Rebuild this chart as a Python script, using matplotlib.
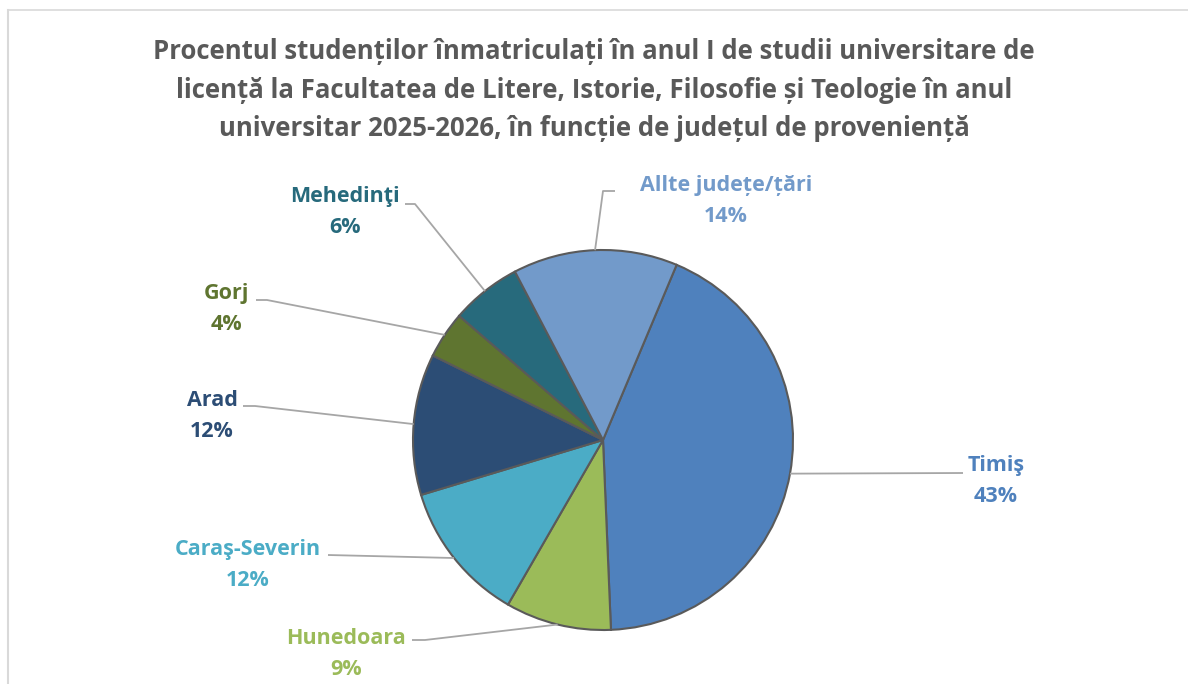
import matplotlib.pyplot as plt
from matplotlib.lines import Line2D
import numpy as np

# chart data
categories = ["Timiş", "Hunedoara", "Caraş-Severin", "Arad", "Gorj", "Mehedinţi", "Allte județe/țări"]
shares = [43, 9, 12, 12, 4, 6, 14]
colors = ["#4F81BD", "#9BBB59", "#4BACC6", "#2C4D75", "#5F7530", "#276A7C", "#729ACA"]

title = ("Procentul studenților înmatriculați în anul I de studii universitare de\n"
         "licență la Facultatea de Litere, Istorie, Filosofie și Teologie în anul\n"
         "universitar 2025-2026, în funcție de județul de proveniență")

W, H = 1188, 684
CX, CY, R = 603, 440, 190   # pie centre / radius in pixels

fig = plt.figure(figsize=(W / 100, H / 100), dpi=100)
ax = fig.add_axes([0, 0, 1, 1])
ax.set_aspect("equal")
ax.axis("off")


def px(x, y):
    # pixel position (from top-left) -> data coords
    return (x - CX) / R, (CY - y) / R


start = 90 - 22.8
wedges, _ = ax.pie(shares, colors=colors, startangle=start, counterclock=False,
                   radius=1, center=(0, 0),
                   wedgeprops=dict(edgecolor="#5A5A5A", linewidth=1.5))
ax.set_xlim(-CX / R, (W - CX) / R)
ax.set_ylim(-(H - CY) / R, CY / R)

FONT = ["Open Sans", "DejaVu Sans"]
# label text centre (px) and leader elbow (px)
label_pos = [(996, 481), (346, 654), (248, 565), (212, 416), (226, 309), (345, 212), (726, 201)]
elbows = [None, (425, 640), None, (255, 406), (267, 300), (415, 204), (603, 191)]
line_start = [(963, 473), (412, 640), (328, 555), (243, 406), (256, 300), (405, 204), (615, 191)]

for w, cat, val, col, lp, el, ls in zip(wedges, categories, shares, colors,
                                         label_pos, elbows, line_start):
    ang = np.deg2rad((w.theta1 + w.theta2) / 2)
    anchor = (np.cos(ang), np.sin(ang))
    pts = [px(*ls)]
    if el is not None:
        pts.append(px(*el))
    pts.append(anchor)
    xs, ys = zip(*pts)
    ax.plot(xs, ys, color="#A6A6A6", lw=1.3, zorder=1, solid_capstyle="butt")
    tx, ty = px(*lp)
    ax.text(tx, ty, f"{cat}\n{val}%", ha="center", va="center", color=col,
            fontsize=15.5, fontweight="bold", family=FONT, linespacing=1.6)

fig.text(0.5, 1 - 90 / H, title, ha="center", va="center", fontsize=18.5,
         fontweight="bold", color="#595959", family=FONT, linespacing=1.55)

# light chart-area border (top and left)
fig.add_artist(Line2D([8 / W, 1], [1 - 10 / H, 1 - 10 / H], color="#D9D9D9", lw=1.2))
fig.add_artist(Line2D([8 / W, 8 / W], [0, 1 - 10 / H], color="#D9D9D9", lw=1.5))

fig.savefig("out.png", dpi=100)
